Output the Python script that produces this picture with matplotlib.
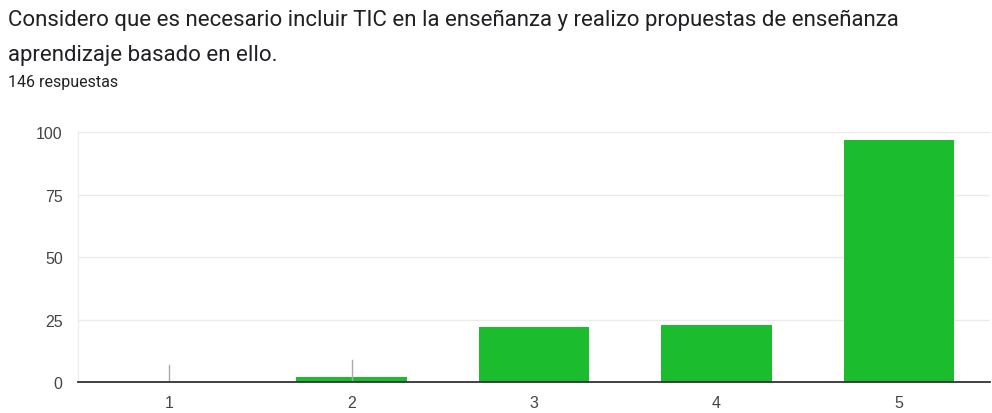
import matplotlib
matplotlib.use("Agg")
import matplotlib.pyplot as plt

categories = ["1", "2", "3", "4", "5"]
counts = [0, 2, 22, 23, 97]
yticks = [0, 25, 50, 75, 100]
title_l1 = "Considero que es necesario incluir TIC en la enseñanza y realizo propuestas de enseñanza"
title_l2 = "aprendizaje basado en ello."
subtitle = "146 respuestas"

fig = plt.figure(figsize=(9.92, 4.14), dpi=100)
fig.patch.set_facecolor("white")

fig.text(8/992, 1 - 20/414, title_l1, fontsize=16, family="Roboto", color="#202124", va="center", ha="left")
fig.text(8/992, 1 - 55/414, title_l2, fontsize=16, family="Roboto", color="#202124", va="center", ha="left")
fig.text(8/992, 1 - 83/414, subtitle, fontsize=11.5, family="Roboto", color="#202124", va="center", ha="left")

ax = fig.add_axes([78/992, 1 - 383.3/414, (990 - 78)/992, 250/414])
x = list(range(len(categories)))
ax.bar(x, counts, width=0.605, color="#1bbc2e", zorder=3)
# small leader ticks for tiny bars
for xi, c in zip(x, counts):
    if c < 5:
        ax.plot([xi, xi], [0, c + 7], color="#aaaaaa", lw=1, zorder=4)

ax.set_xlim(-0.5, len(categories) - 0.5)
ax.set_ylim(0, 100)
ax.set_yticks(yticks)
ax.set_xticks(x)
ax.set_xticklabels(categories)
ax.grid(axis="y", color="#ebebeb", lw=1, zorder=0)
ax.set_axisbelow(True)
for s in ["top", "right"]:
    ax.spines[s].set_visible(False)
ax.spines["left"].set_color("#ebebeb")
ax.spines["bottom"].set_color("#333333")
ax.spines["bottom"].set_linewidth(1.3)
ax.spines["bottom"].set_zorder(5)
ax.tick_params(axis="both", length=0, labelsize=11.5, labelcolor="#444444")
ax.tick_params(axis="y", pad=11)
ax.tick_params(axis="x", pad=9)
for lab in ax.get_xticklabels() + ax.get_yticklabels():
    lab.set_family("Liberation Sans")
for sp in ax.spines.values():
    sp.set_clip_on(False)

fig.savefig("out.png", dpi=100, facecolor="white")
